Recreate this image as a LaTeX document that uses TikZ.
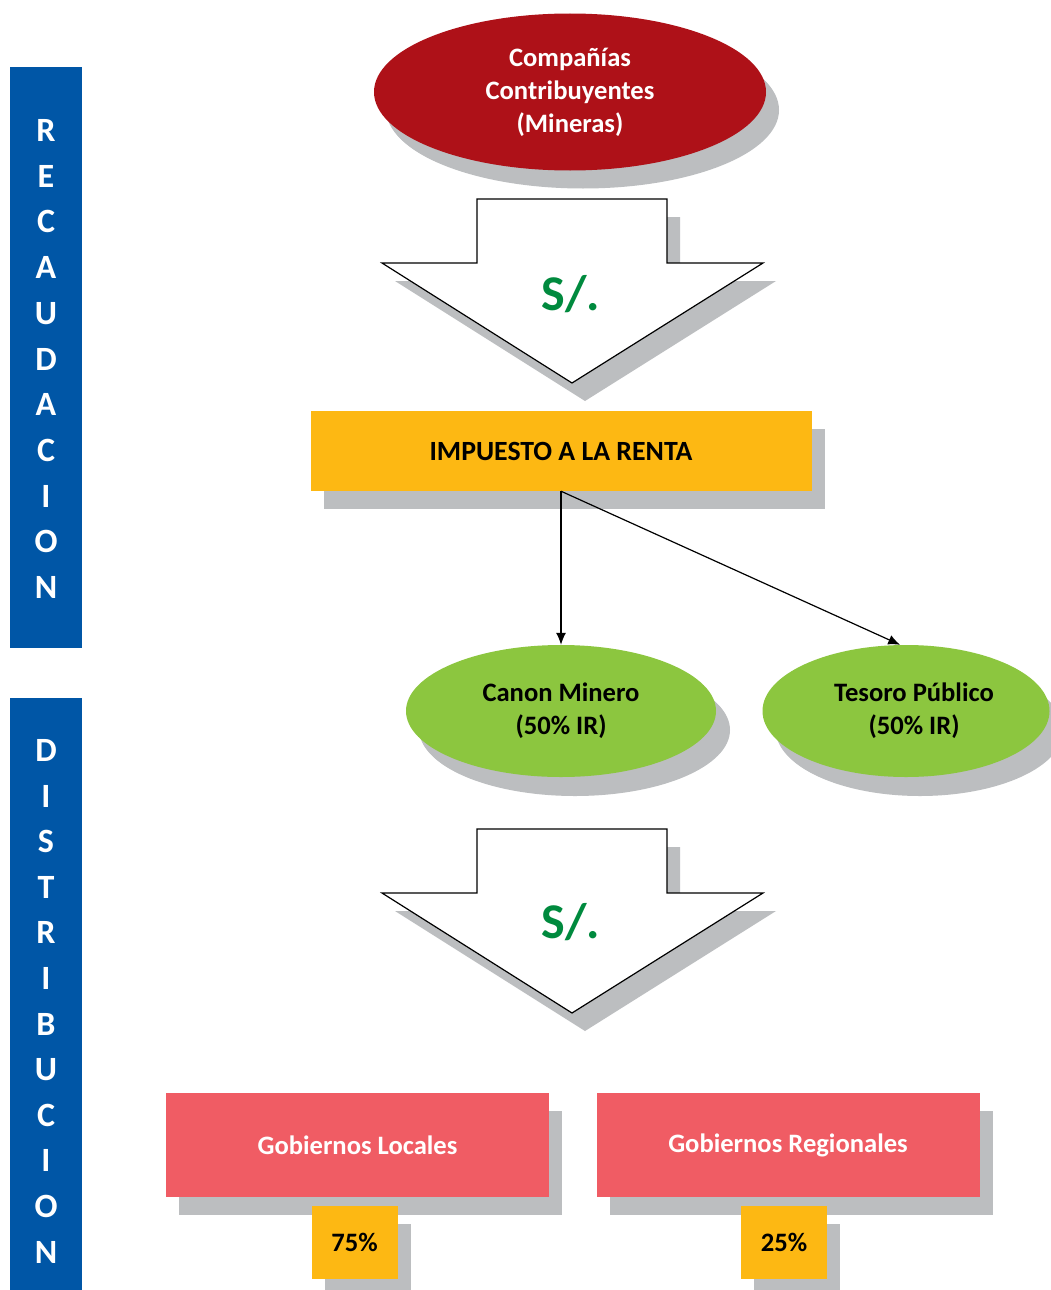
\documentclass[tikz,border=0pt]{standalone}
\usepackage{fontspec}
\setmainfont{Carlito}
\usetikzlibrary{shapes.geometric,shadows,arrows.meta}
\definecolor{shgray}{RGB}{188,190,192}
\definecolor{cred}{RGB}{174,17,24}
\definecolor{corange}{RGB}{253,184,19}
\definecolor{cgreen}{RGB}{140,198,63}
\definecolor{cpink}{RGB}{240,92,100}
\definecolor{cblue}{RGB}{0,86,166}
\definecolor{sgreen}{RGB}{0,138,62}
\tikzset{
  shad/.style={drop shadow={shadow xshift=13pt,shadow yshift=-18pt,fill=shgray,opacity=1}},
  txt/.style={font=\fontsize{26.6}{33}\selectfont\bfseries,align=center,inner sep=0pt},
  oval/.style={ellipse,inner sep=0pt,shad,txt},
  box/.style={rectangle,inner sep=0pt,shad,txt},
  bigarrow/.style={draw=black,line width=1.2pt,fill=white,shad},
  sol/.style={font=\fontsize{50}{60}\selectfont\bfseries,text=sgreen,inner sep=0pt,anchor=base},
  bar/.style={rectangle,fill=cblue,inner sep=0pt},
  letter/.style={font=\fontsize{34}{40}\selectfont\bfseries,text=white,inner sep=0pt,anchor=base},
  conn/.style={line width=1.2pt,-{Latex[length=12pt,width=10pt]}}
}
\begin{document}
\begin{tikzpicture}[x=1pt,y=-1pt]
\useasboundingbox[fill=white] (0,0) rectangle (1051,1290);

% side bars
\node[bar,minimum width=72pt,minimum height=581pt] (bar1) at (46,357.5) {};
\node[bar,minimum width=72pt,minimum height=600pt] (bar2) at (46,998) {};
\foreach \l [count=\i from 0] in {R,E,C,A,U,D,A,C,I,O,N}
  \node[letter] (ra\i) at (46,{141.5+45.7*\i}) {\l};
\foreach \l [count=\i from 0] in {D,I,S,T,R,I,B,U,C,I,O,N}
  \node[letter] (di\i) at (46,{761.5+45.6*\i}) {\l};

% top ellipse
\node[oval,fill=cred,text=white,minimum width=392pt,minimum height=157pt,
      drop shadow={shadow xshift=12pt,shadow yshift=-17pt,fill=shgray,opacity=1}]
      (comp) at (570,92) {Compañías\\Contribuyentes\\(Mineras)};

% first big arrow
\draw[bigarrow] (477,199) -- (667,199) -- (667,263) -- (763,263) -- (572,383)
  -- (382,263) -- (477,263) -- cycle;
\node[sol] (s1) at (571,310) {S/.};

% impuesto
\node[box,fill=corange,minimum width=501pt,minimum height=80pt,
      font=\fontsize{27.8}{33}\selectfont\bfseries] (imp) at (561,451) {IMPUESTO A LA RENTA};

% green ellipses
\node[oval,fill=cgreen,minimum width=310pt,minimum height=132pt,
      drop shadow={shadow xshift=14pt,shadow yshift=-19pt,fill=shgray,opacity=1}]
      (canon) at (561,711) {Canon Minero\\(50\% IR)};
\node[oval,fill=cgreen,minimum width=287pt,minimum height=132pt,
      drop shadow={shadow xshift=14pt,shadow yshift=-19pt,fill=shgray,opacity=1}]
      (tesoro) at (906,711) {\hspace*{16pt}Tesoro Público\\\hspace*{16pt}(50\% IR)};

\draw[conn] (imp.south) -- (canon.north);
\draw[conn] (imp.south) -- (tesoro.95);

% second big arrow
\draw[bigarrow] (477,829) -- (667,829) -- (667,893) -- (763,893) -- (572,1013)
  -- (382,893) -- (477,893) -- cycle;
\node[sol] (s2) at (571,938) {S/.};

% governments
\node[box,fill=cpink,text=white,minimum width=383pt,minimum height=104pt] (loc) at (357.5,1145) {Gobiernos Locales};
\node[box,fill=cpink,text=white,minimum width=383pt,minimum height=104pt] (reg) at (788,1145) {\raisebox{2pt}{Gobiernos Regionales}};

% percentages
\node[box,fill=corange,minimum width=86pt,minimum height=73pt] (p75) at (354.5,1242.5) {75\%};
\node[box,fill=corange,minimum width=86pt,minimum height=73pt] (p25) at (784,1242.5) {25\%};
\end{tikzpicture}
\end{document}
